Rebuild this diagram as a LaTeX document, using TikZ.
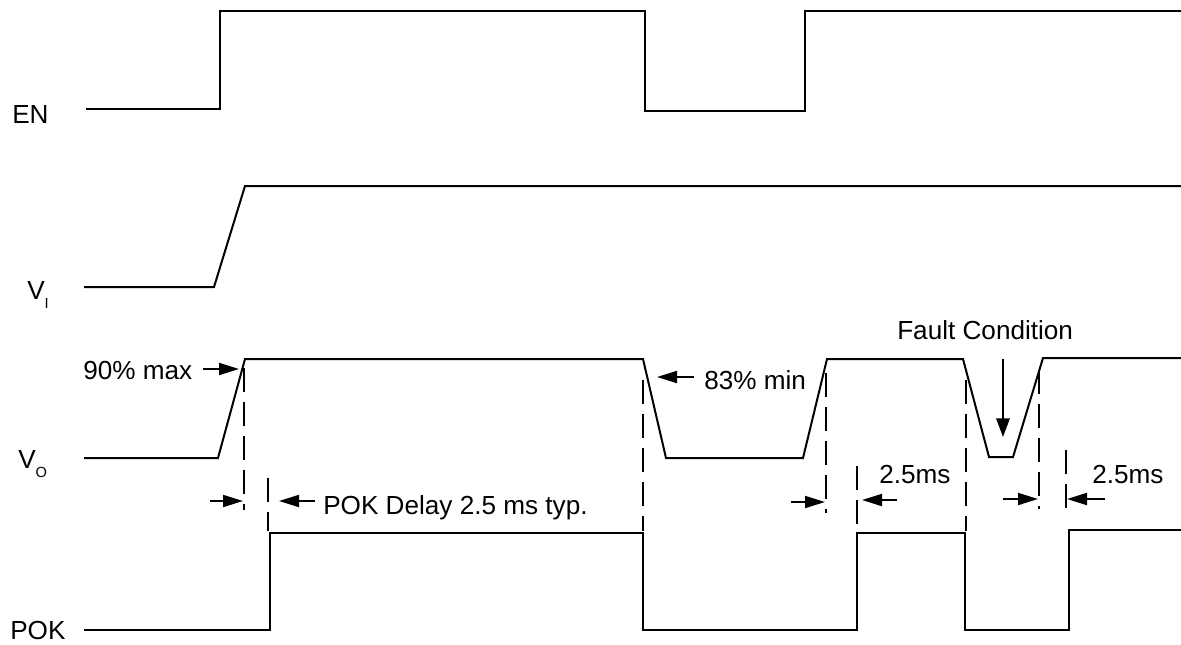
\documentclass[tikz,border=0pt]{standalone}
\usepackage{fontspec}
\setmainfont{Liberation Sans}
\usetikzlibrary{arrows.meta}
\newcommand\sigsub[2]{#1\raisebox{-6.75pt}{\fontsize{11pt}{11pt}\selectfont #2}}

\begin{document}
\begin{tikzpicture}[
  x=0.75pt, y=-0.75pt,
  wave/.style={line width=1.5pt, line join=miter},
  guide/.style={line width=1.6pt, dash pattern=on 18pt off 7.5pt},
  dim/.style={line width=1.5pt, -{Triangle[length=15pt, width=9pt]}},
  lbl/.style={font=\fontsize{19.6pt}{22pt}\selectfont, inner sep=0pt, anchor=base west},
]
  \useasboundingbox (0, 0) rectangle (1181, 644);

  \node[lbl] (en)  at (12, 123) {EN};
  \node[lbl] (vi)  at (27, 299) {\sigsub{V}{I}};
  \node[lbl] (vo)  at (18, 468) {\sigsub{V}{O}};
  \node[lbl] (pok) at (10, 639) {POK};

  \draw[wave] (86, 109) -- (220, 109) -- (220, 11) -- (645, 11) -- (645, 111)
    -- (805, 111) -- (805, 11) -- (1181, 11);
  \draw[wave] (84, 287) -- (214, 287) -- (245, 186) -- (1181, 186);
  \draw[wave] (84, 458) -- (218, 458) -- (245, 359) -- (643, 359) -- (666, 458)
    -- (803, 458) -- (827, 359) -- (963, 359) -- (989, 457) -- (1013, 457)
    -- (1043, 358) -- (1181, 358);
  \draw[wave] (84, 630) -- (270, 630) -- (270, 533) -- (643, 533) -- (643, 630)
    -- (857, 630) -- (857, 533) -- (965, 533) -- (965, 630) -- (1069, 630)
    -- (1069, 530) -- (1181, 530);

  \begin{scope}[guide]
    \draw (244, 368) -- (244, 510);
    \draw (268, 478) -- (268, 531);
    \draw (643, 380) -- (643, 531);
    \draw (826, 373) -- (826, 513);
    \draw (857, 466) -- (857, 531);
    \draw (966, 380) -- (966, 531);
    \draw (1039, 370) -- (1039, 509);
    \draw (1066, 450) -- (1066, 513);
  \end{scope}

  \node[lbl] (max)   at (83, 379)  {90\% max};
  \node[lbl] (min)   at (704, 389) {83\% min};
  \node[lbl] (delay) at (323, 514) {POK Delay 2.5 ms typ.};
  \node[lbl] (dta)   at (879, 483) {2.5ms};
  \node[lbl] (dtb)   at (1092, 483) {2.5ms};
  \node[lbl] (fault) at (897, 339) {Fault Condition};

  \draw[dim] (203, 369) -- (239, 369);
  \draw[dim] (694, 377) -- (657, 377);
  \draw[dim] (210, 501) -- (243, 501);
  \draw[dim] (315, 501) -- (279, 501);
  \draw[dim] (791, 502) -- (825, 502);
  \draw[dim] (897, 500) -- (862, 500);
  \draw[dim] (1003, 499) -- (1038, 499);
  \draw[dim] (1105, 499) -- (1067, 499);
  \draw[dim, -{Triangle[length=14pt, width=10pt]}] (1003, 359) -- (1003, 437);
\end{tikzpicture}
\end{document}
